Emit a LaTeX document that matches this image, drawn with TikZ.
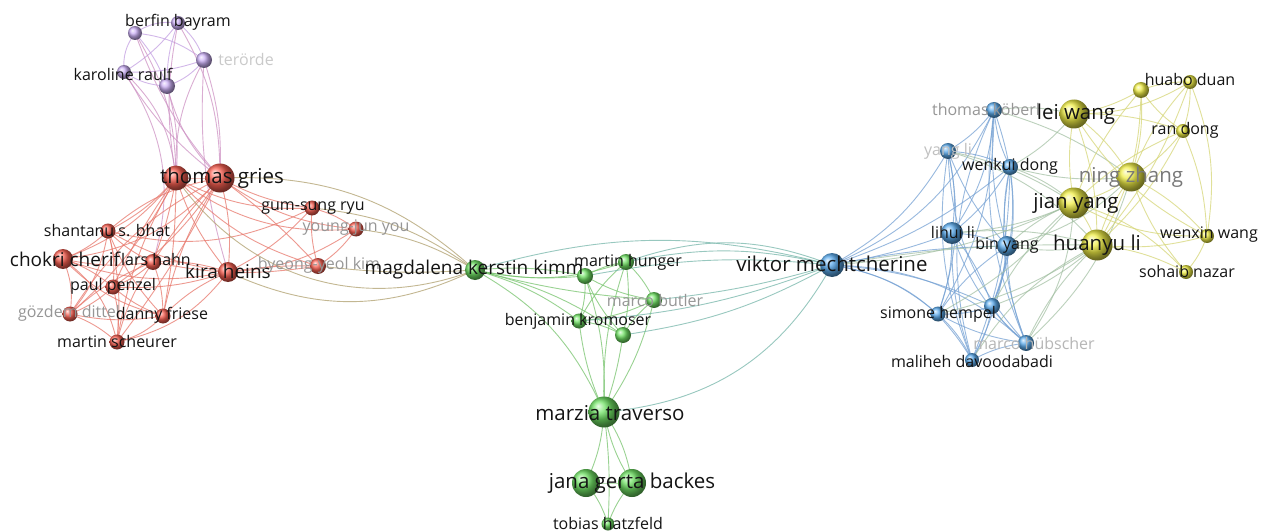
\documentclass[tikz,border=0pt]{standalone}
\usepackage{fontspec}
\setmainfont{Open Sans}
\usetikzlibrary{shadings}
\pgfdeclarelayer{bg}
\pgfdeclarelayer{fg}
\pgfsetlayers{bg,main,fg}
\definecolor{cR}{RGB}{250,96,82}
\definecolor{cG}{RGB}{112,226,100}
\definecolor{cB}{RGB}{92,172,238}
\definecolor{cY}{RGB}{240,238,70}
\definecolor{cP}{RGB}{204,176,246}
\definecolor{eRc}{RGB}{232,120,108}
\definecolor{eGc}{RGB}{120,196,110}
\definecolor{eBc}{RGB}{118,162,212}
\definecolor{eYc}{RGB}{214,214,120}
\definecolor{ePc}{RGB}{196,160,226}
\definecolor{ePRc}{RGB}{206,146,196}
\definecolor{eRGc}{RGB}{176,160,110}
\definecolor{eGBc}{RGB}{118,182,170}
\definecolor{eBYc}{RGB}{160,190,160}
\definecolor{txt}{RGB}{20,20,20}
\definecolor{fade}{RGB}{150,150,150}
\tikzset{
  ball/.style={circle, inner sep=0pt, shading=ball, ball color=#1},
  eR/.style={draw=eRc, line width=0.9pt, opacity=0.75},
  eG/.style={draw=eGc, line width=0.9pt, opacity=0.75},
  eB/.style={draw=eBc, line width=0.9pt, opacity=0.75},
  eY/.style={draw=eYc, line width=0.9pt, opacity=0.75},
  eP/.style={draw=ePc, line width=0.9pt, opacity=0.75},
  ePR/.style={draw=ePRc, line width=0.9pt, opacity=0.75},
  eRG/.style={draw=eRGc, line width=0.9pt, opacity=0.75},
  eGB/.style={draw=eGBc, line width=0.9pt, opacity=0.75},
  eBY/.style={draw=eBYc, line width=0.9pt, opacity=0.7},
  lab/.style={inner sep=0pt, text=txt, font=\fontsize{16}{18}\selectfont},
  labm/.style={inner sep=0pt, text=txt, font=\fontsize{19}{21}\selectfont},
  labb/.style={inner sep=0pt, text=txt, font=\fontsize{20.5}{23}\selectfont},
  labf/.style={inner sep=0pt, text=fade, font=\fontsize{16}{18}\selectfont},
}
\begin{document}
\begin{tikzpicture}[x=1pt,y=-1pt]
\useasboundingbox (0,0) rectangle (1269,532);
% purple
\node[ball=cP, minimum size=14] (pa) at (135,33) {};
\node[ball=cP, minimum size=14] (pb) at (178,23) {};
\node[ball=cP, minimum size=16] (pc) at (204,60) {};
\node[ball=cP, minimum size=14] (pd) at (124,72) {};
\node[ball=cP, minimum size=16] (pe) at (167,86) {};
% red
\node[ball=cR, minimum size=25] (tg1) at (176,178) {};
\node[ball=cR, minimum size=29] (tg2) at (220,178) {};
\node[ball=cR, minimum size=15] (gs) at (312,208) {};
\node[ball=cR, minimum size=15] (yj) at (356,229) {};
\node[ball=cR, minimum size=15] (sb) at (108,231) {};
\node[ball=cR, minimum size=20] (cc) at (63,259) {};
\node[ball=cR, minimum size=16] (lh) at (153,262) {};
\node[ball=cR, minimum size=20] (kh) at (228,272) {};
\node[ball=cR, minimum size=16] (bk) at (318,266) {};
\node[ball=cR, minimum size=15] (pp) at (113,287) {};
\node[ball=cR, minimum size=15] (gd) at (70,314) {};
\node[ball=cR, minimum size=15] (df) at (163,316) {};
\node[ball=cR, minimum size=15] (ms) at (117,342) {};
% green
\node[ball=cG, minimum size=20] (mk) at (475,270) {};
\node[ball=cG, minimum size=16] (g1) at (585,276) {};
\node[ball=cG, minimum size=16] (mh) at (626,262) {};
\node[ball=cG, minimum size=16] (mb) at (654,300) {};
\node[ball=cG, minimum size=15] (bkr) at (579,321) {};
\node[ball=cG, minimum size=16] (g2) at (623,335) {};
\node[ball=cG, minimum size=31] (mt) at (604,412) {};
\node[ball=cG, minimum size=28] (jg1) at (586,483) {};
\node[ball=cG, minimum size=28] (jg2) at (632,483) {};
\node[ball=cG, minimum size=13] (th) at (608,524) {};
% blue
\node[ball=cB, minimum size=24] (vm) at (832,265) {};
\node[ball=cB, minimum size=16] (tk) at (994,110) {};
\node[ball=cB, minimum size=16] (yl) at (948,151) {};
\node[ball=cB, minimum size=16] (wd) at (1010,167) {};
\node[ball=cB, minimum size=22] (ll) at (952,233) {};
\node[ball=cB, minimum size=20] (by) at (1007,246) {};
\node[ball=cB, minimum size=16] (b1) at (992,306) {};
\node[ball=cB, minimum size=15] (sh) at (938,314) {};
\node[ball=cB, minimum size=16] (mhu) at (1026,343) {};
\node[ball=cB, minimum size=14] (md) at (972,360) {};
% yellow
\node[ball=cY, minimum size=29] (lw) at (1074,114) {};
\node[ball=cY, minimum size=16] (hd1) at (1141,90) {};
\node[ball=cY, minimum size=14] (hd) at (1190,82) {};
\node[ball=cY, minimum size=14] (rd) at (1183,131) {};
\node[ball=cY, minimum size=29] (nz) at (1131,177) {};
\node[ball=cY, minimum size=31] (jy) at (1074,203) {};
\node[ball=cY, minimum size=31] (hl) at (1097,245) {};
\node[ball=cY, minimum size=14] (ww) at (1207,236) {};
\node[ball=cY, minimum size=14] (sn) at (1186,272) {};

\begin{pgfonlayer}{bg}
\fill[white] (0,0) rectangle (1269,532);
\foreach \a/\b/\c in {pa/pb/20,pa/pc/15,pa/pd/-20,pa/pe/10,pb/pc/15,pb/pd/10,pb/pe/-10,pc/pd/10,pc/pe/15,pd/pe/-15}
  \draw[eP] (\a.center) to[bend left=\c] (\b.center);
\foreach \a/\b/\c in {pa/tg1/15,pa/tg2/-10,pb/tg1/-10,pb/tg2/15,pc/tg1/-15,pc/tg2/10,pd/tg1/20,pd/tg2/-10,pe/tg1/10,pe/tg2/-15,pd/lh/25,pc/kh/-10}
  \draw[ePR] (\a.center) to[bend left=\c] (\b.center);
\foreach \a/\b/\c in {tg1/tg2/0,tg1/sb/10,tg1/cc/15,tg1/lh/5,tg1/kh/-10,tg1/pp/-5,tg1/gd/10,tg1/df/5,tg1/ms/-10,tg1/gs/-15,tg1/yj/-20,tg1/bk/-15,
  tg2/sb/-15,tg2/cc/20,tg2/lh/-5,tg2/kh/10,tg2/pp/10,tg2/gd/-15,tg2/df/-10,tg2/ms/5,tg2/gs/-10,tg2/yj/-15,tg2/bk/5,
  sb/cc/10,sb/lh/-10,sb/pp/10,sb/gd/15,sb/df/-10,sb/ms/10,sb/kh/-10,cc/lh/-10,cc/pp/10,cc/gd/15,cc/df/-15,cc/ms/20,cc/kh/-15,
  lh/pp/10,lh/gd/-10,lh/df/10,lh/ms/-10,lh/kh/10,pp/gd/10,pp/df/-10,pp/ms/10,pp/kh/-10,gd/df/-10,gd/ms/10,df/ms/15,df/kh/10,ms/kh/-20,
  kh/gs/-10,kh/bk/5,kh/yj/-15,gs/yj/10,gs/bk/-10,yj/bk/10,lh/bk/-10,sb/gs/-20}
  \draw[eR] (\a.center) to[bend left=\c] (\b.center);
\foreach \a/\b/\c in {tg2/mk/22,tg1/mk/-38,kh/mk/-25,bk/mk/-5,yj/mk/12,gs/mk/15}
  \draw[eRG] (\a.center) to[bend left=\c] (\b.center);
\foreach \a/\b/\c in {mk/g1/-8,mk/mh/-15,mk/mb/-5,mk/bkr/10,mk/g2/10,mk/mt/18,mk/g1/8,
  g1/mh/10,g1/mb/-10,g1/bkr/10,g1/g2/-10,g1/mt/10,mh/mb/10,mh/bkr/-10,mh/g2/10,mh/mt/-10,mb/bkr/10,mb/g2/-10,mb/mt/10,bkr/g2/10,bkr/mt/-8,g2/mt/5,
  mt/jg1/10,mt/jg2/-10,jg1/jg2/0,jg1/th/10,jg2/th/-10,mt/th/5,mt/jg2/12}
  \draw[eG] (\a.center) to[bend left=\c] (\b.center);
\foreach \a/\b/\c in {vm/mk/15,vm/mh/12,vm/mh/20,vm/g1/8,vm/mb/-5,vm/bkr/-8,vm/g2/-10,vm/mt/-28}
  \draw[eGB] (\a.center) to[bend right=\c] (\b.center);
\foreach \a/\b/\c in {vm/tk/-20,vm/yl/-15,vm/wd/-10,vm/ll/-5,vm/by/5,vm/b1/10,vm/sh/15,vm/mhu/20,vm/md/25,
  tk/yl/10,tk/wd/-10,tk/ll/15,tk/by/-10,tk/b1/20,tk/sh/15,tk/md/-20,tk/mhu/-15,yl/wd/10,yl/ll/10,yl/by/-10,yl/sh/15,yl/md/-15,yl/mhu/-20,
  wd/ll/10,wd/by/-10,wd/b1/15,wd/md/10,wd/mhu/-15,ll/by/10,ll/sh/10,ll/md/-10,ll/b1/10,ll/mhu/-15,by/b1/10,by/sh/-10,by/mhu/-10,by/md/10,
  b1/sh/10,b1/mhu/-10,b1/md/10,sh/md/10,sh/mhu/-10,md/mhu/10}
  \draw[eB] (\a.center) to[bend left=\c] (\b.center);
\foreach \a/\b/\c in {tk/lw/10,wd/lw/-10,wd/jy/10,wd/nz/-10,yl/jy/10,yl/hl/15,ll/jy/-10,ll/hl/10,by/hl/-10,by/jy/10,by/nz/-15,
  b1/hl/-10,mhu/hl/10,mhu/jy/-15,md/hl/15,sh/hl/-10,vm/jy/-10,vm/hl/5,mhu/nz/-15,tk/nz/10,b1/jy/10,sh/jy/-10}
  \draw[eBY] (\a.center) to[bend left=\c] (\b.center);
\foreach \a/\b/\c in {lw/hd1/-10,lw/hd/-15,lw/rd/10,lw/nz/10,lw/jy/-10,lw/hl/10,lw/ww/-15,hd1/hd/10,hd1/rd/-10,hd1/nz/10,hd1/jy/-10,hd1/hl/15,
  hd/rd/10,hd/nz/-10,hd/hl/10,rd/nz/10,rd/jy/-10,rd/hl/10,nz/jy/10,nz/hl/-10,nz/ww/10,nz/sn/-10,jy/hl/10,jy/ww/-15,jy/sn/15,hl/ww/-10,hl/sn/10,ww/sn/10,ww/rd/-10,hd/ww/15}
  \draw[eY] (\a.center) to[bend left=\c] (\b.center);
\end{pgfonlayer}

\begin{pgfonlayer}{fg}
\node[lab] (l-pb) at (178,22) {berfin bayram};
\node[labf, text=fade!50!white] (l-pc) at (246,60) {terörde};
\node[lab] (l-pd) at (123,74) {karoline raulf};
\node[labb] (l-tg) at (222,178) {thomas gries};
\node[lab] (l-gs) at (313,208) {gum-sung ryu};
\node[labf] (l-yj) at (356,228) {young-jun you};
\node[lab] (l-sb) at (107,231) {shantanu s. bhat};
\node[labm] (l-cc) at (65,259) {chokri cherif};
\node[lab] (l-lh) at (156,259) {lars hahn};
\node[labm] (l-kh) at (228,271) {kira heins};
\node[labf] (l-bk) at (319,265) {byeong-yeol kim};
\node[labm] (l-mk) at (474,270) {magdalena kerstin kimm};
\node[lab] (l-pp) at (113,286) {paul penzel};
\node[labf] (l-gd) at (69,313) {gözdem dittel};
\node[lab] (l-df) at (162,315) {danny friese};
\node[lab] (l-ms) at (117,341) {martin scheurer};
\node[lab] (l-mh) at (628,262) {martin hunger};
\node[labf] (l-mb) at (655,300) {marco butler};
\node[lab] (l-bkr) at (578,321) {benjamin kromoser};
\node[labb] (l-mt) at (610,413) {marzia traverso};
\node[labb] (l-jg) at (632,483) {jana gerta backes};
\node[lab] (l-th) at (608,523) {tobias hatzfeld};
\node[labb] (l-vm) at (832,264) {viktor mechtcherine};
\node[labf] (l-tk) at (986,110) {thomas köberl};
\node[labf, text=fade!60!white] (l-yl) at (948,151) {yang li};
\node[lab] (l-wd) at (1010,166) {wenkui dong};
\node[lab] (l-ll) at (953,232) {lihui li};
\node[lab] (l-by) at (1007,245) {bin yang};
\node[lab] (l-sh) at (938,314) {simone hempel};
\node[labf, text=fade!70!white] (l-mhu) at (1034,343) {marco hübscher};
\node[lab] (l-md) at (972,361) {maliheh davoodabadi};
\node[labb] (l-lw) at (1076,114) {lei wang};
\node[lab] (l-hd) at (1190,80) {huabo duan};
\node[lab] (l-rd) at (1185,130) {ran dong};
\node[labb, text=fade!80!black] (l-nz) at (1131,177) {ning zhang};
\node[labb] (l-jy) at (1076,203) {jian yang};
\node[labb] (l-hl) at (1097,245) {huanyu li};
\node[lab] (l-ww) at (1209,235) {wenxin wang};
\node[lab] (l-sn) at (1187,271) {sohaib nazar};
\end{pgfonlayer}
\end{tikzpicture}
\end{document}
